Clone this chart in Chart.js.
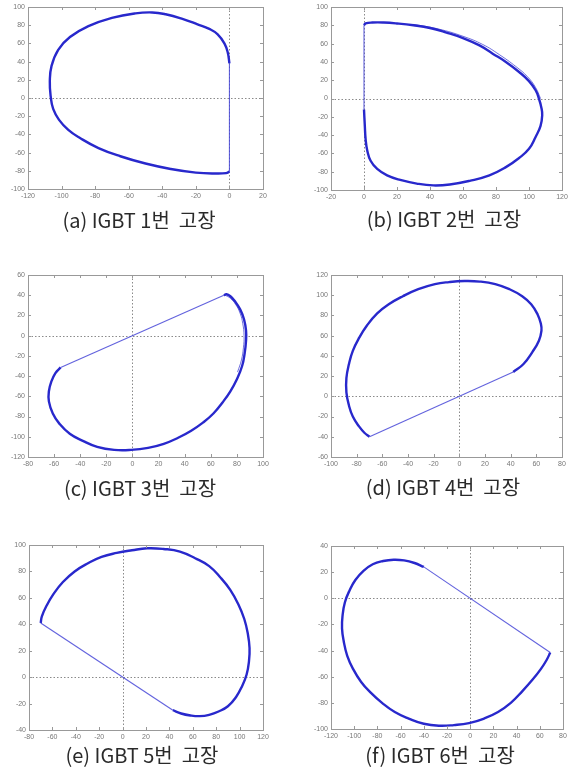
<!DOCTYPE html>
<html>
<head>
<meta charset="utf-8">
<script src="https://cdn.jsdelivr.net/npm/chart.js@4/dist/chart.umd.min.js"></script>
<style>
  body { margin: 0; background: #fff; width: 572px; height: 772px; position: relative; overflow: hidden; }
  canvas { position: absolute; }
  .cap { position: absolute; width: 220px; text-align: center; white-space: pre;
         font-family: "Noto Sans CJK KR", "Noto Sans", sans-serif; font-size: 20px; color: #2a2a2a; line-height: 26px; }
</style>
</head>
<body>

<canvas id="pa"></canvas><canvas id="pb"></canvas>
<canvas id="pc"></canvas><canvas id="pd"></canvas>
<canvas id="pe"></canvas><canvas id="pf"></canvas>

<div class="cap" style="left:29px; top:207px">(a) IGBT 1번  고장</div>
<div class="cap" style="left:334px; top:206px">(b) IGBT 2번  고장</div>
<div class="cap" style="left:30px; top:475px">(c) IGBT 3번  고장</div>
<div class="cap" style="left:333px; top:474px">(d) IGBT 4번  고장</div>
<div class="cap" style="left:32px; top:742px">(e) IGBT 5번  고장</div>
<div class="cap" style="left:330px; top:742px">(f) IGBT 6번  고장</div>

<script>
// current trajectories, one per failed switch: [x, y] pairs
// straight = thin segment through the origin, arc = the loop itself

// (a) IGBT 1
const lineA = [[0, -82], [0, 38]];
const arcA = [[0, 38], [-1, 50], [-3, 60], [-7, 70], [-12, 76], [-19, 81], [-28, 87], [-38, 92], [-46, 94],
  [-56, 93], [-70, 88], [-84, 79], [-95, 67], [-102, 53], [-106, 35], [-107, 18], [-106.5, 2], [-105, -12],
  [-101.5, -24], [-96, -35], [-89, -44], [-78, -55], [-65, -64], [-50, -72], [-35, -78], [-20, -82], [-8, -83],
  [-2, -82.5], [0, -81]];

// (b) IGBT 2
const lineB = [[0, -12], [0, 80]];
const arcB = [[0, 80], [1, 82], [5, 83], [12, 83], [20, 82], [30, 80], [40, 77], [50, 72], [60, 66], [70, 58],
  [78, 49], [86, 40], [94, 29], [100, 19], [104, 9], [106, 0], [107.5, -10], [108, -18], [107, -30], [104, -42],
  [100, -55], [94, -65], [86, -75], [76, -84], [64, -90], [52, -94], [42, -95], [32, -93], [22, -89], [14, -84],
  [8, -77], [4, -68], [2, -57], [1, -45], [0.5, -30], [0, -12]];
const arcB2 = [[30, 81], [45, 76], [60, 68], [72, 59], [82, 48], [92, 35], [99, 24], [104, 12], [107, 0]];

// (c) IGBT 3
const lineC = [[-55, -31.4], [70, 40]];
const arcC = [[-55, -31.4], [-59, -37], [-62, -45], [-64, -55], [-64, -65], [-61, -77], [-56, -87], [-48, -97],
  [-38, -104], [-27, -110], [-14, -113], [-1, -113], [12, -111], [24, -107], [35, -101], [45, -94], [54, -86],
  [62, -77], [69, -66], [75, -55], [80, -43], [84, -30], [86, -17], [87, -5], [87, 5], [85.5, 16], [82.5, 26],
  [78.5, 34], [75, 39], [72, 41], [70, 40]];
const arcC2 = [[71, 40], [75, 37], [79, 31], [82.5, 22], [84.5, 12], [85.5, 0], [85, -12], [83.5, -24], [80.5, -36]];

// (d) IGBT 4
const lineD = [[-70, -40], [42, 24]];
const arcD = [[42, 24], [50, 32], [57, 44], [62, 55], [64, 65], [63.5, 72], [61, 81], [56, 91], [49, 99], [39, 106],
  [28, 111], [16, 113.5], [4, 114], [-8, 113], [-19, 111], [-32, 106], [-44, 99], [-55, 91], [-64, 82], [-72, 70],
  [-78, 58], [-83, 45], [-86, 32], [-88, 18], [-88, 4], [-86, -9], [-83, -20], [-78, -30], [-74, -36], [-70, -40]];

// (e) IGBT 5
const lineE = [[-70, 41], [43, -25]];
const arcE = [[43, -25], [50, -27.5], [58, -29], [66, -29.5], [74, -28.5], [82, -26], [90, -22], [97, -15],
  [102, -7], [106, 2], [108, 12], [108.5, 22], [107, 33], [104, 44], [99, 55], [92, 66], [84, 75], [74, 84],
  [62, 90], [49, 95], [35, 97], [21, 97.5], [8, 96], [-5, 94], [-18, 91], [-30, 86], [-41, 80], [-51, 72],
  [-59, 63], [-65, 54], [-69, 46], [-70, 41]];

// (f) IGBT 6
const lineF = [[69, -41.5], [-40, 24]];
const arcF = [[-40, 24], [-48, 27], [-57, 29], [-66, 29.5], [-75, 28.5], [-84, 26], [-92, 21], [-99, 14],
  [-104, 6], [-108, -3], [-110, -13], [-110.5, -23], [-109, -33], [-106, -44], [-101, -54], [-94, -64],
  [-86, -72], [-76, -80], [-65, -87], [-53, -92], [-40, -96], [-27, -97.5], [-14, -97], [-1, -95.5], [12, -92],
  [24, -87], [35, -80], [45, -71], [54, -62], [61, -54], [66, -47], [69, -41.5]];

// axis limits [min, max], 20 per tick
const xLimA = [-120, 20],  yLimA = [-100, 100];
const xLimB = [-20, 120],  yLimB = [-100, 100];
const xLimC = [-80, 100],  yLimC = [-120, 60];
const xLimD = [-100, 80],  yLimD = [-60, 120];
const xLimE = [-80, 120],  yLimE = [-40, 100];
const xLimF = [-120, 80],  yLimF = [-100, 40];


// matlab-ish frame: box, inner tick marks on all four sides, dotted zero lines
var framePlugin = {
  id: 'frame',
  beforeDatasetsDraw: function(chart) {
    var c = chart.ctx, a = chart.chartArea;
    var x0 = chart.scales.x.getPixelForValue(0), y0 = chart.scales.y.getPixelForValue(0);
    c.save();
    c.strokeStyle = '#8a8a8a';
    c.lineWidth = 1;
    c.setLineDash([1.5, 2]);
    c.beginPath();
    c.moveTo(a.left, Math.round(y0) + 0.5); c.lineTo(a.right, Math.round(y0) + 0.5);
    c.moveTo(Math.round(x0) + 0.5, a.top); c.lineTo(Math.round(x0) + 0.5, a.bottom);
    c.stroke();
    c.restore();
  },
  afterDraw: function(chart) {
    var c = chart.ctx, a = chart.chartArea;
    c.save();
    c.strokeStyle = '#999';
    c.lineWidth = 1;
    c.strokeRect(Math.round(a.left) + 0.5, Math.round(a.top) + 0.5,
                 Math.round(a.right - a.left), Math.round(a.bottom - a.top));
    c.beginPath();
    chart.scales.x.ticks.forEach(function(t) {
      var px = Math.round(chart.scales.x.getPixelForValue(t.value)) + 0.5;
      c.moveTo(px, a.bottom); c.lineTo(px, a.bottom - 3);
      c.moveTo(px, a.top); c.lineTo(px, a.top + 3);
    });
    chart.scales.y.ticks.forEach(function(t) {
      var py = Math.round(chart.scales.y.getPixelForValue(t.value)) + 0.5;
      c.moveTo(a.left, py); c.lineTo(a.left + 3, py);
      c.moveTo(a.right, py); c.lineTo(a.right - 3, py);
    });
    c.stroke();
    c.restore();
  }
};

function pts(list) {
  return list.map(function(p) { return { x: p[0], y: p[1] }; });
}

// box = plot area on the page: left, top, width, height
function makePanel(id, box, xLim, yLim, line, arcs) {
  var cv = document.getElementById(id);
  cv.width = box.w + 40;
  cv.height = box.h + 26;
  cv.style.left = (box.l - 30) + 'px';
  cv.style.top = (box.t - 8) + 'px';

  var sets = [{
    data: pts(line), borderColor: 'rgba(70,70,215,0.85)', borderWidth: 1.1,
    pointRadius: 0, tension: 0
  }];
  arcs.forEach(function(arc, i) {
    sets.push({
      data: pts(arc), borderColor: i == 0 ? '#2828cc' : 'rgba(50,50,210,0.7)',
      borderWidth: i == 0 ? 2.4 : 1, pointRadius: 0, tension: 0.45
    });
  });

  var tickFont = { family: "'Liberation Sans', sans-serif", size: 7 };
  new Chart(cv.getContext('2d'), {
    type: 'line',
    data: { datasets: sets },
    plugins: [framePlugin],
    options: {
      responsive: false,
      animation: false,
      layout: { padding: { left: 2, top: 8, right: 10, bottom: 0 } },
      plugins: { legend: { display: false }, tooltip: { enabled: false } },
      scales: {
        x: {
          type: 'linear', min: xLim[0], max: xLim[1],
          grid: { display: false, drawTicks: false }, border: { display: false },
          ticks: { stepSize: 20, autoSkip: false, maxRotation: 0, padding: 3, color: '#777', font: tickFont },
          afterFit: function(s) { s.height = 18; }
        },
        y: {
          min: yLim[0], max: yLim[1],
          grid: { display: false, drawTicks: false }, border: { display: false },
          ticks: { stepSize: 20, autoSkip: false, padding: 3, color: '#777', font: tickFont },
          afterFit: function(s) { s.width = 28; }
        }
      }
    }
  });
}

makePanel('pa', { l: 28,  t: 7,   w: 235, h: 182 }, xLimA, yLimA, lineA, [arcA]);
makePanel('pb', { l: 331, t: 7,   w: 231, h: 183 }, xLimB, yLimB, lineB, [arcB, arcB2]);
makePanel('pc', { l: 28,  t: 275, w: 235, h: 182 }, xLimC, yLimC, lineC, [arcC, arcC2]);
makePanel('pd', { l: 331, t: 275, w: 231, h: 182 }, xLimD, yLimD, lineD, [arcD]);
makePanel('pe', { l: 29,  t: 545, w: 234, h: 185 }, xLimE, yLimE, lineE, [arcE]);
makePanel('pf', { l: 331, t: 546, w: 232, h: 183 }, xLimF, yLimF, lineF, [arcF]);
</script>
</body>
</html>
